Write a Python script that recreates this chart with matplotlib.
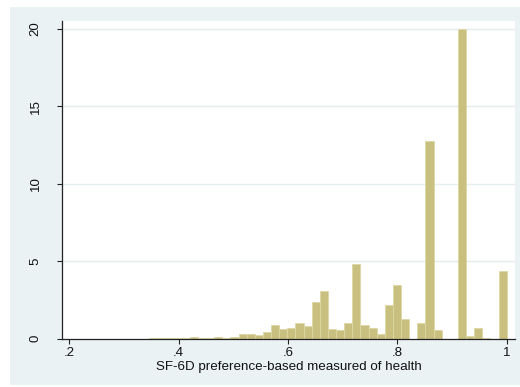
import numpy as np
import matplotlib.pyplot as plt
from matplotlib.patches import Rectangle

# histogram of SF-6D scores (density), 44 bins
bin_lo = 0.346
bin_hi = 1.0
n_bins = 44
density = [0.02, 0.02, 0.03, 0.04, 0.06, 0.07, 0.05, 0.06, 0.10, 0.05,
           0.12, 0.32, 0.32, 0.20, 0.43, 0.90, 0.60, 0.69, 0.99, 0.84,
           2.33, 3.04, 0.60, 0.52, 0.99, 4.83, 0.90, 0.69, 0.32, 2.15,
           3.45, 1.23, 0.00, 0.97, 12.77, 0.58, 0.00, 0.00, 20.00, 0.17,
           0.71, 0.06, 0.00, 4.34]

xticks = [0.2, 0.4, 0.6, 0.8, 1.0]
xtick_labels = ['.2', '.4', '.6', '.8', '1']
yticks = [0, 5, 10, 15, 20]
xlabel = 'SF-6D preference-based measured of health'

bg = '#EAF2F3'
bar_fill = '#C9BF7E'
bar_edge = '#DDD7A6'

plt.rcParams['font.family'] = ['Liberation Sans', 'DejaVu Sans']

fig = plt.figure(figsize=(5.2, 3.87), dpi=100)
fig.patch.set_facecolor('white')
fig.patches.append(Rectangle((10/520, 2/387), 1 - 10/520, 1 - 9/387,
                             transform=fig.transFigure, facecolor=bg,
                             edgecolor='none', zorder=-10))

ax = fig.add_axes([62/520, 48.5/387, 453/520, 317.5/387])
ax.set_facecolor('white')

edges = np.linspace(bin_lo, bin_hi, n_bins + 1)
dens = np.array(density)
keep = dens > 0
ax.bar(edges[:-1][keep], dens[keep], width=np.diff(edges)[keep], align='edge',
       color=bar_fill, edgecolor=bar_edge, linewidth=0.6, zorder=3)

ax.set_xlim(0.1866, 1.0152)
ax.set_ylim(0, 20.52)

ax.set_xticks(xticks)
ax.set_xticklabels(xtick_labels)
ax.set_yticks(yticks)
ax.set_yticklabels([str(v) for v in yticks], rotation=90, va='center')

for v in yticks[1:]:
    ax.axhline(v, color='#E3ECEE', linewidth=1.0, zorder=1)

for s in ['top', 'right']:
    ax.spines[s].set_visible(False)
for s in ['left', 'bottom']:
    ax.spines[s].set_color('#222222')
    ax.spines[s].set_linewidth(0.9)
    ax.spines[s].set_zorder(4)

ax.tick_params(axis='both', direction='out', length=3.6, width=0.8,
               color='#222222', labelsize=9.5, labelcolor='#111111')
ax.tick_params(axis='y', pad=11)
ax.tick_params(axis='x', pad=2.5)

ax.set_xlabel(xlabel, fontsize=9.6, color='#111111', labelpad=1.5)

fig.savefig('out.png', dpi=100, facecolor=fig.get_facecolor())
